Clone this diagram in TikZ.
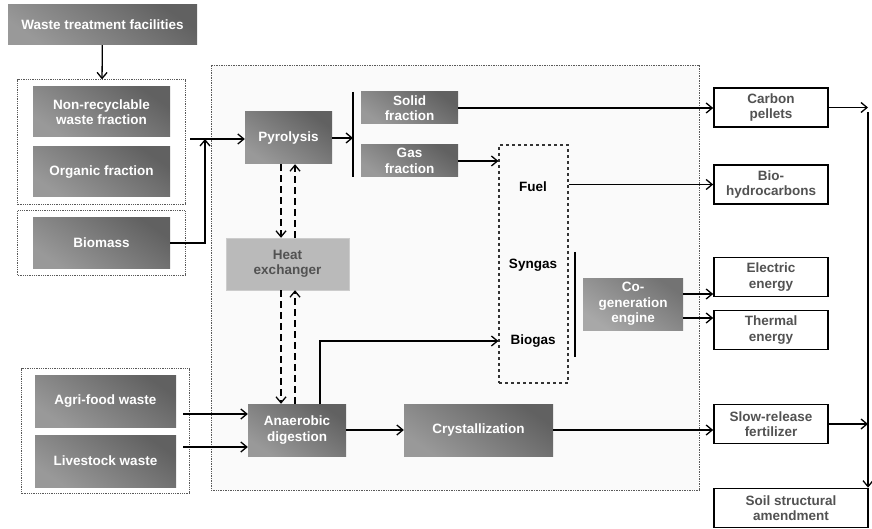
\documentclass[tikz,border=0pt]{standalone}
\usepackage{fontspec}
\setmainfont{Liberation Sans}
\usetikzlibrary{arrows.meta,positioning,fit,calc}

\begin{document}
\begin{tikzpicture}[
    x=1pt, y=1pt,
    every node/.style={font=\fontsize{13.5}{15.5}\selectfont\bfseries,align=center,inner sep=0pt},
    proc/.style={top color=black!62,bottom color=black!40,shading angle=-35,
                 draw=none,text=white},
    light/.style={fill=black!27,draw=black!20,text=black!68},
    outbox/.style={draw=black,line width=1.7pt,fill=white,text=black!68,
                   minimum width=114pt,minimum height=39pt},
    grp/.style={draw=black!65,densely dotted,line width=0.8pt},
    plant/.style={draw=black!65,densely dotted,line width=0.7pt,fill=black!2},
    arr/.style={-{Straight Barb[length=6pt,width=10pt]},line width=1.3pt},
    hline/.style={-{Straight Barb[length=6pt,width=10pt]},line width=1.3pt,dash pattern=on 7pt off 4pt},
    bar/.style={line width=2.2pt},
    lbl/.style={text=black}
]
\useasboundingbox (0,0) rectangle (872,-529);

% main process area
\node[plant,minimum width=488pt,minimum height=425pt] (area) at (455,-277.5) {};

% inputs
\node[proc,minimum width=189pt,minimum height=40pt] (WTF) at (102.5,-25) {Waste treatment facilities};
\node[proc,minimum width=137pt,minimum height=50pt] (NR) at (101.5,-112) {Non-recyclable\\waste fraction};
\node[proc,minimum width=137pt,minimum height=50pt] (OF) at (101.5,-172) {Organic fraction};
\node[proc,minimum width=137pt,minimum height=50pt] (BM) at (101.5,-243) {Biomass};
\node[proc,minimum width=141pt,minimum height=52pt] (AG) at (105.5,-401) {Agri-food waste};
\node[proc,minimum width=141pt,minimum height=52pt] (LS) at (105.5,-461) {Livestock waste};

% dotted frames round the inputs
\node[grp,fit=(NR)(OF),inner xsep=15pt,inner ysep=7pt] (grpA) {};
\node[grp,fit=(BM),inner xsep=15pt,inner ysep=7pt] (grpB) {};
\node[grp,fit=(AG)(LS),inner xsep=13pt,inner ysep=6pt] (grpC) {};

% process blocks
\node[proc,minimum width=87pt,minimum height=52pt] (PY) at (288.5,-138) {Pyrolysis};
\node[light,minimum width=123pt,minimum height=52pt] (HX) at (287.5,-264) {Heat\\exchanger};
\node[proc,minimum width=98pt,minimum height=52pt] (AD) at (297,-430) {Anaerobic\\digestion};
\node[proc,minimum width=149pt,minimum height=52pt] (CR) at (478.5,-430) {Crystallization};
\node[proc,minimum width=97pt,minimum height=32pt] (SF) at (409.5,-108) {Solid\\fraction};
\node[proc,minimum width=97pt,minimum height=32pt] (GF) at (409.5,-161) {Gas\\fraction};
\node[draw=black!80,dashed,line width=1.2pt,minimum width=69pt,minimum height=238pt] (GAS) at (533.5,-264) {};
\node[lbl] (fuel) at (533,-187) {Fuel};
\node[lbl] (syn) at (533,-265) {Syngas};
\node[lbl] (bio) at (533,-341) {Biogas};
\node[proc,top color=black!55,bottom color=black!34,shading angle=-35,minimum width=100pt,minimum height=52pt] (CG) at (633,-304) {Co-\\generation\\engine};

% outputs
\node[outbox] (CP) at (771,-107.5) {Carbon\\pellets};
\node[outbox] (BH) at (771,-184.5) {Bio-\\hydrocarbons};
\node[outbox] (EE) at (771,-277) {Electric\\energy};
\node[outbox] (TE) at (771,-330) {Thermal\\energy};
\node[outbox] (SR) at (771,-424) {Slow-release\\fertilizer};
\node[outbox,minimum width=154pt] (SA) at (791,-508) {Soil structural\\amendment};

% helper points
\coordinate (join) at (205,-139);
\coordinate (inA) at (190,-139);
\coordinate (sTop) at (353,-92);
\coordinate (sBot) at (353,-177);
\coordinate (cTop) at (575,-252);
\coordinate (cBot) at (575,-357);
\coordinate (cgA) at (683,-294);
\coordinate (cgB) at (683,-318);
\coordinate (coll) at (868,-112);
\coordinate (adA) at (183,-414);
\coordinate (adB) at (183,-447);

% connectors
\draw[arr] (WTF) -- (grpA);
\draw[arr] (inA) -- (inA -| PY.west);
\draw[arr] (BM.east) -| (join);
\draw[arr] (PY.east) -- (PY.east -| sTop);
\draw[bar] (sTop) -- (sBot);
\draw[bar,line width=1.8pt] (cTop) -- (cBot);
\draw[arr] (SF.east) -- (SF.east -| CP.west);
\draw[arr] (GF.east) -- (GF.east -| GAS.west);
\draw[arr] (GAS.east |- BH.west) -- (BH.west);
\draw[arr] (cgA) -- (cgA -| EE.west);
\draw[arr] (cgB) -- (cgB -| TE.west);
\draw[arr] (adA) -- (adA -| AD.west);
\draw[arr] (adB) -- (adB -| AD.west);
\draw[arr] (AD) -- (CR);
\draw[arr] (CR) -- (CR -| SR.west);
\draw[arr] (AD.north -| 320,0) |- (GAS.west |- bio);
\draw[hline] (PY.south -| 281,0) -- (HX.north -| 281,0);
\draw[hline] (HX.north -| 295,0) -- (PY.south -| 295,0);
\draw[hline] (HX.south -| 281,0) -- (AD.north -| 281,0);
\draw[hline] (AD.north -| 295,0) -- (HX.south -| 295,0);
\draw[arr] (CP.east) -- (CP.east -| coll);
\draw[arr] (SR.east) -- (SR.east -| coll);
\draw[arr] (coll) -- (coll |- SA.north);

\end{tikzpicture}
\end{document}
